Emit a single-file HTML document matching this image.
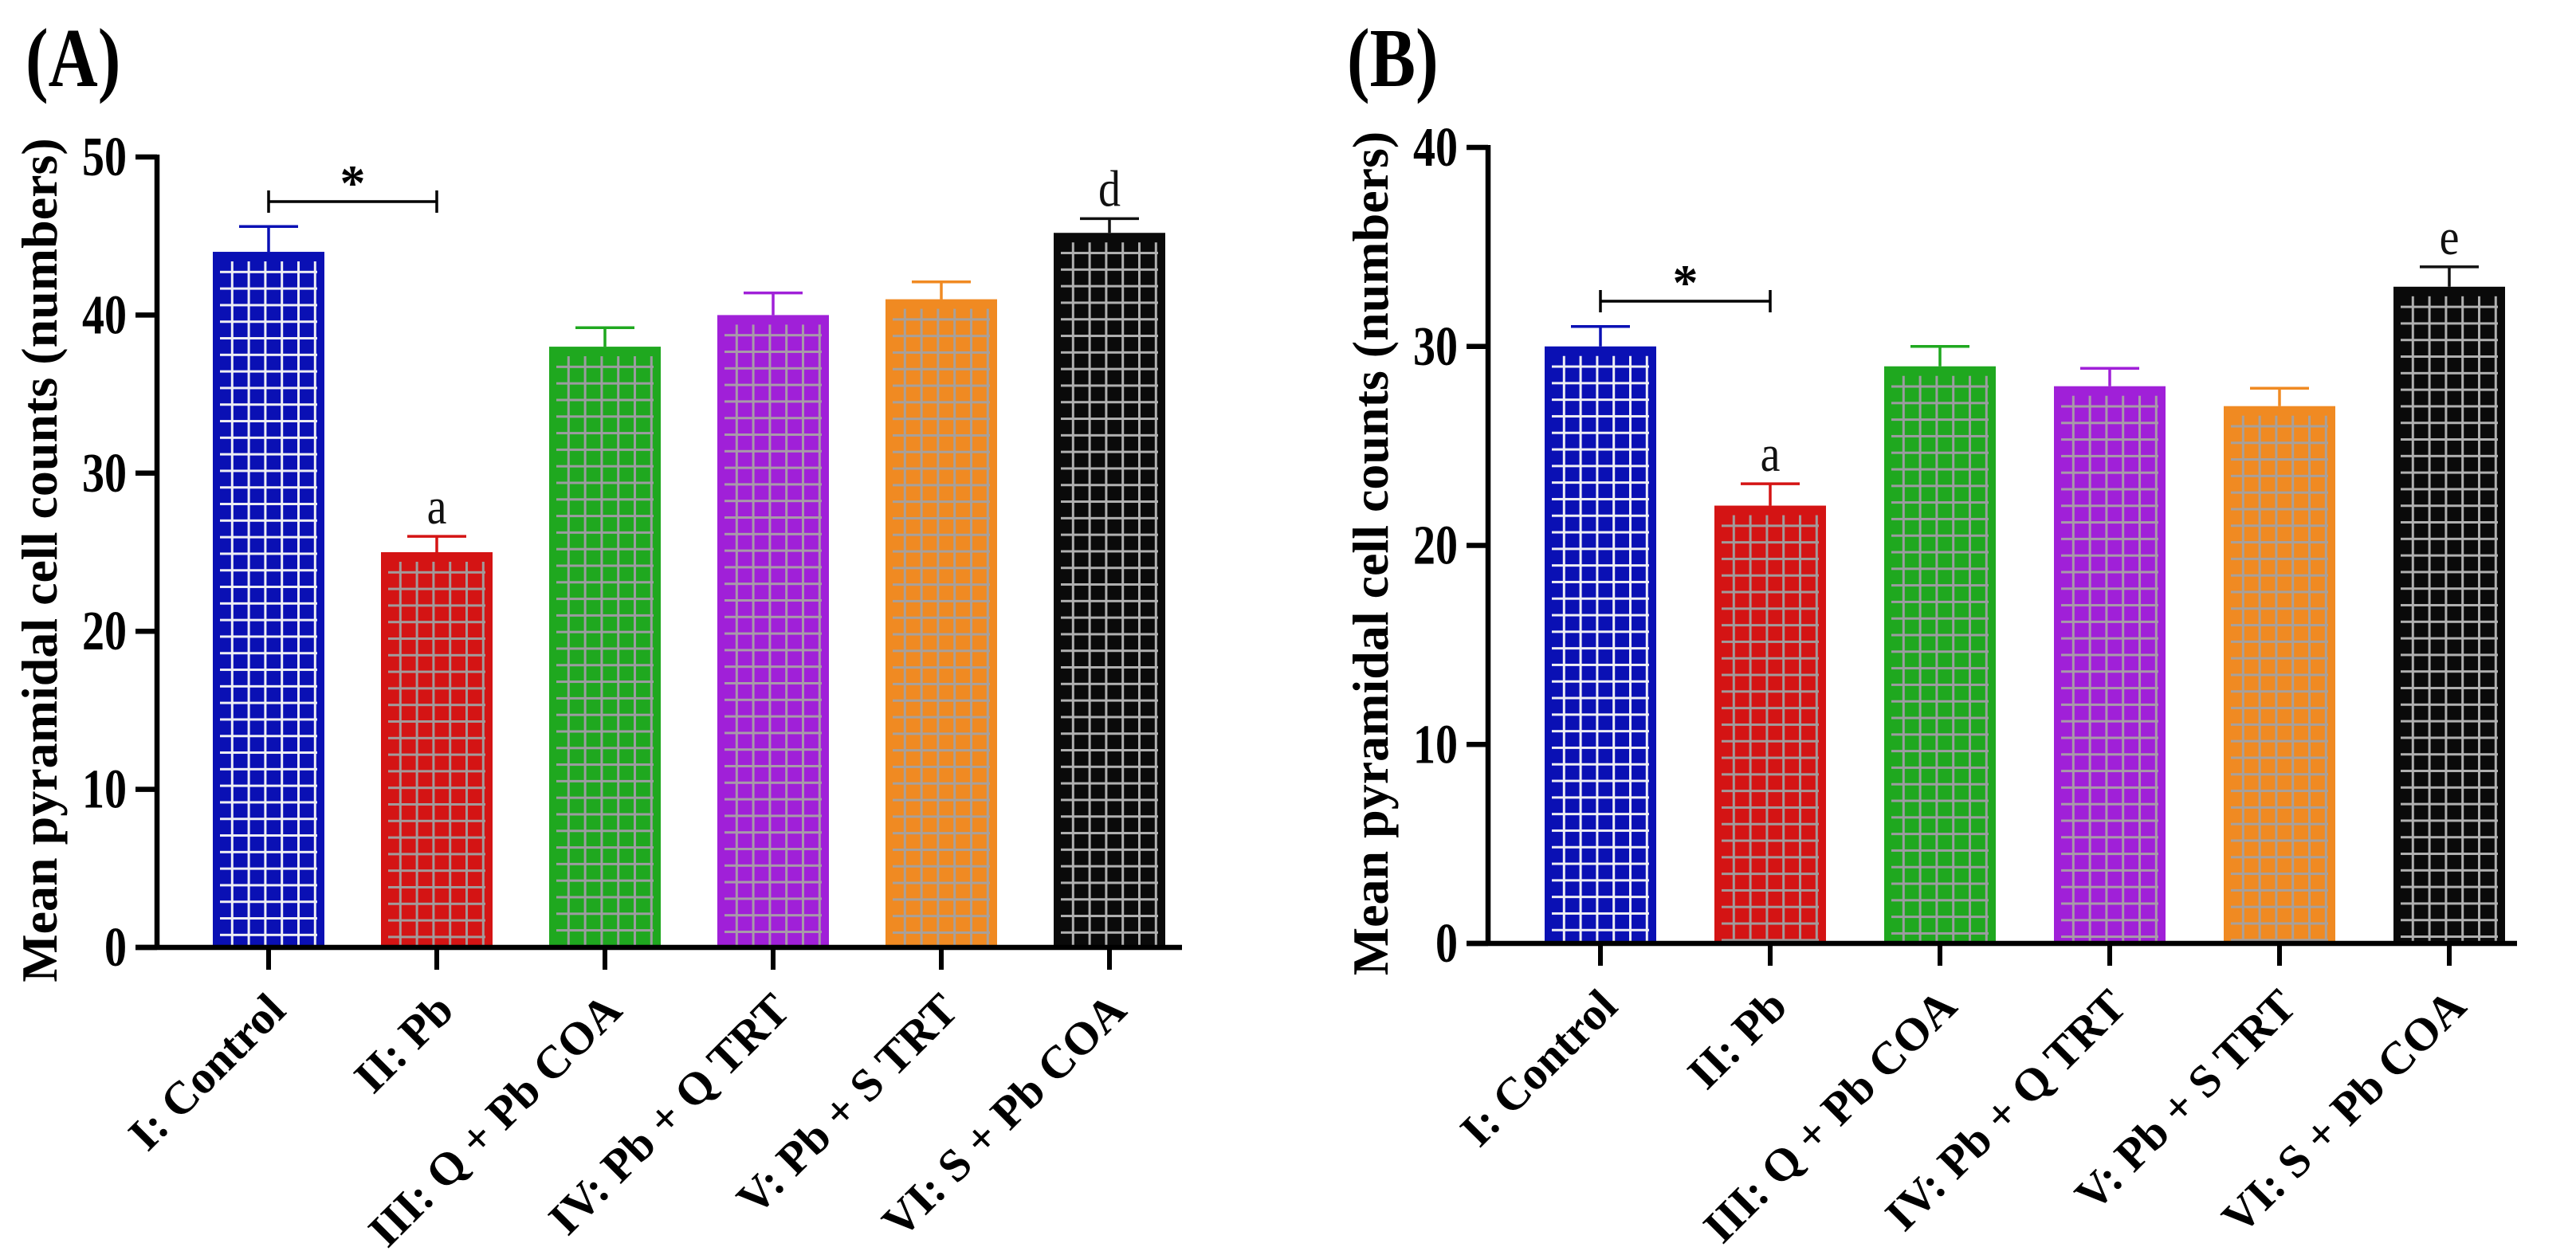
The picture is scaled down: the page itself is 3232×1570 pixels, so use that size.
<!DOCTYPE html>
<html><head><meta charset="utf-8">
<style>
html,body{margin:0;padding:0;background:#fff;}
svg{display:block;}
text{font-family:"Liberation Serif",serif;}
</style></head>
<body>
<svg id="fig" width="3232" height="1570" viewBox="0 0 3232 1570" xmlns="http://www.w3.org/2000/svg">
<rect width="3232" height="1570" fill="#fff"/>
<defs id="defs"></defs>
<g id="panelA"></g>
<g id="panelB"></g>
</svg>
<script>
const categories = ["I: Control","II: Pb","III: Q + Pb COA","IV: Pb + Q TRT","V: Pb + S TRT","VI: S + Pb COA"];
const valuesA = [44, 25, 38, 40, 41, 45.2];
const errorsA = [1.6, 1.0, 1.2, 1.4, 1.1, 0.9];
const valuesB = [30, 22, 29, 28, 27, 33];
const errorsB = [1.0, 1.1, 1.0, 0.9, 0.9, 1.0];
const ticksA = [0, 10, 20, 30, 40, 50];
const ticksB = [0, 10, 20, 30, 40];
const lettersA = ["", "a", "", "", "", "d"];
const lettersB = ["", "a", "", "", "", "e"];
const colors = ["#0a10b4","#d41414","#1fa81f","#a020d8","#f08a22","#0a0a0a"];
const lineColors = ["#eeeef4","#a39a9a","#9c9ca0","#a89aa8","#a8a09a","#b0b0b0"];

const NS = "http://www.w3.org/2000/svg";
const svg = document.getElementById('fig');
const defs = document.getElementById('defs');
function mk(tag, attrs, parent){
  const e = document.createElementNS(NS, tag);
  for (const k in attrs) e.setAttribute(k, attrs[k]);
  if (parent) parent.appendChild(e);
  return e;
}

function drawPanel(g, cfg){
  const {axisX, y0, yTop, maxV, firstCx, step, axisEnd, values, errors, ticks, letters, id, label, labelX} = cfg;
  const yScale = v => y0 - (y0 - yTop) * v / maxV;
  const xScale = i => firstCx + step * i;
  const barW = 140;

  const pl = mk('text', {x: 0, y: 0, transform: 'translate(' + labelX + ' 108) scale(1 1.22)', 'font-size': 86, 'font-weight': 'bold', fill: '#000'}, g);
  pl.textContent = label;
  
  

  values.forEach((v, i) => {
    const cx = xScale(i);
    const left = cx - barW / 2;
    const top = yScale(v);
    const bg = mk('g', {}, g);
    
    
    mk('rect', {x: left, y: top, width: barW, height: y0 - top, fill: colors[i]}, bg);
    const pid = 'pat' + id + i;
    const pat = mk('pattern', {id: pid, patternUnits: 'userSpaceOnUse', x: left + 2, y: top + 3, width: 20.8, height: 20.8}, defs);
    mk('rect', {x: 0, y: 0, width: 3, height: 20.8, fill: lineColors[i]}, pat);
    mk('rect', {x: 0, y: 0, width: 20.8, height: 3, fill: lineColors[i]}, pat);
    mk('rect', {x: left + 9, y: top + 12, width: barW - 18, height: Math.max(0, y0 - top - 14), fill: 'url(#' + pid + ')'}, bg);
    const et = yScale(v + errors[i]);
    const eb = mk('g', {stroke: colors[i] === '#0a0a0a' ? '#111' : colors[i], 'stroke-width': 3.5}, g);
    
    
    mk('line', {x1: cx, y1: top, x2: cx, y2: et}, eb);
    mk('line', {x1: cx - 37, y1: et, x2: cx + 37, y2: et}, eb);
    if (letters[i]) {
      const t = mk('text', {x: 0, y: 0, transform: 'translate(' + cx + ' ' + (et - 16) + ') scale(1 1.15)', 'font-size': 56, 'text-anchor': 'middle', fill: '#111'}, g);
      t.textContent = letters[i];
      
      
    }
    mk('line', {x1: cx, y1: y0, x2: cx, y2: y0 + 28, stroke: '#000', 'stroke-width': 6}, g);
    const lx = cx + 24, ly = y0 + 82;
    const xl = mk('text', {x: lx, y: ly, 'font-size': 58, 'font-weight': 'bold', 'text-anchor': 'end', transform: 'rotate(-45 ' + lx + ' ' + ly + ')', fill: '#000'}, g);
    xl.textContent = categories[i];
    
    
  });

  const ax = mk('g', {stroke: '#000', 'stroke-width': 6.5, fill: 'none'}, g);
  
  
  mk('line', {x1: axisX, y1: yTop - 3, x2: axisX, y2: y0 + 3}, ax);
  mk('line', {x1: axisX - 27, y1: y0, x2: axisEnd, y2: y0}, ax);
  ticks.forEach(t => {
    const y = yScale(t);
    mk('line', {x1: axisX - 27, y1: y, x2: axisX, y2: y, stroke: '#000', 'stroke-width': 6.5}, g);
    const tl = mk('text', {x: 0, y: 0, transform: 'translate(' + (axisX - 38) + ' ' + (y + 23) + ') scale(1 1.25)', 'font-size': 56, 'font-weight': 'bold', 'text-anchor': 'end', fill: '#000'}, g);
    tl.textContent = t;
    
    
  });

  const tx = axisX - 126, ty = (y0 + yTop) / 2 + 10;
  const yt = mk('text', {x: tx, y: ty, 'font-size': 64, 'font-weight': 'bold', 'text-anchor': 'middle', transform: 'rotate(-90 ' + tx + ' ' + ty + ')', fill: '#000'}, g);
  yt.textContent = 'Mean pyramidal cell counts (numbers)';
  
  

  const by = cfg.bracketY;
  const br = mk('g', {stroke: '#000', 'stroke-width': 3.5}, g);
  
  
  mk('line', {x1: xScale(0), y1: by, x2: xScale(1), y2: by}, br);
  mk('line', {x1: xScale(0), y1: by - 14, x2: xScale(0), y2: by + 14}, br);
  mk('line', {x1: xScale(1), y1: by - 14, x2: xScale(1), y2: by + 14}, br);
  const st = mk('text', {x: (xScale(0) + xScale(1)) / 2, y: by - 2, 'font-size': 64, 'font-weight': 'bold', 'text-anchor': 'middle', fill: '#000'}, g);
  st.textContent = '*';
  
  
}

drawPanel(document.getElementById('panelA'), {
  axisX: 197, y0: 1189, yTop: 197, maxV: 50, firstCx: 337, step: 211, axisEnd: 1483,
  values: valuesA, errors: errorsA, ticks: ticksA, letters: lettersA, id: 'A', label: '(A)', labelX: 32, bracketY: 253
});
drawPanel(document.getElementById('panelB'), {
  axisX: 1867, y0: 1184, yTop: 185, maxV: 40, firstCx: 2008, step: 213, axisEnd: 3158,
  values: valuesB, errors: errorsB, ticks: ticksB, letters: lettersB, id: 'B', label: '(B)', labelX: 1690, bracketY: 378
});
</script>
</body></html>
